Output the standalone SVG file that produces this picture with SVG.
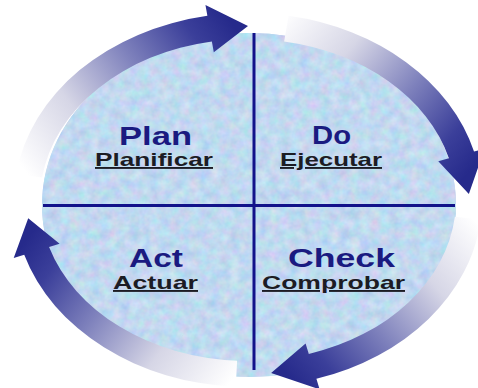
<svg xmlns="http://www.w3.org/2000/svg" width="478" height="388" viewBox="0 0 478 388">
  <style>
    .main { font-family: "Liberation Sans", Arial, sans-serif; font-weight: bold; font-size: 25px; fill: #1a1a80; }
    .sub { font-family: "Liberation Sans", Arial, sans-serif; font-weight: bold; font-size: 19px; fill: #1c1c24; text-decoration: underline; }
    .axis { stroke: #12128a; stroke-width: 3; fill: none; }
  </style>
  <defs>
    <filter id="tex" filterUnits="userSpaceOnUse" x="0" y="0" width="478" height="388" color-interpolation-filters="sRGB">
      <feTurbulence type="fractalNoise" baseFrequency="0.1" numOctaves="3" seed="4" result="n"/>
      <feColorMatrix in="n" type="matrix" values="0.25 0 0 0 0.63  0 0.18 0 0 0.76  0 0 0.1 0 0.89  0 0 0 0 1" result="c"/>
      <feComposite in="c" in2="SourceAlpha" operator="in"/>
    </filter>
    <linearGradient id="g1" gradientUnits="userSpaceOnUse" x1="30" y1="178" x2="235" y2="28">
      <stop offset="0" stop-color="#ffffff"/>
      <stop offset="0.3" stop-color="#d6d6e6"/>
      <stop offset="0.6" stop-color="#7e81bc"/>
      <stop offset="0.85" stop-color="#3b3f9a"/>
      <stop offset="1" stop-color="#262a8b"/>
    </linearGradient>
    <linearGradient id="g2" gradientUnits="userSpaceOnUse" x1="275" y1="25" x2="462" y2="180">
      <stop offset="0" stop-color="#ffffff"/>
      <stop offset="0.3" stop-color="#d6d6e6"/>
      <stop offset="0.6" stop-color="#7e81bc"/>
      <stop offset="0.85" stop-color="#3b3f9a"/>
      <stop offset="1" stop-color="#262a8b"/>
    </linearGradient>
    <linearGradient id="g3" gradientUnits="userSpaceOnUse" x1="470" y1="215" x2="285" y2="372">
      <stop offset="0" stop-color="#ffffff"/>
      <stop offset="0.3" stop-color="#d6d6e6"/>
      <stop offset="0.6" stop-color="#7e81bc"/>
      <stop offset="0.85" stop-color="#3b3f9a"/>
      <stop offset="1" stop-color="#262a8b"/>
    </linearGradient>
    <linearGradient id="g4" gradientUnits="userSpaceOnUse" x1="236" y1="375" x2="35" y2="228">
      <stop offset="0" stop-color="#ffffff"/>
      <stop offset="0.3" stop-color="#d6d6e6"/>
      <stop offset="0.6" stop-color="#7e81bc"/>
      <stop offset="0.85" stop-color="#3b3f9a"/>
      <stop offset="1" stop-color="#262a8b"/>
    </linearGradient>
  </defs>

  <rect width="478" height="388" fill="#ffffff"/>

  <g id="disc">
    <ellipse cx="249" cy="205" rx="207" ry="172" fill="#bfd5ef"/>
    <ellipse cx="249" cy="205" rx="207" ry="172" fill="#bfd5ef" filter="url(#tex)"/>
  </g>

  <g id="connectors">
    <path d="M 16.27,173.97 A 234 187 0 0 1 207.37,15.84 L 205.46,5.01 L 248,26 L 213.79,52.28 L 211.88,41.45 A 208 161 0 0 0 42.02,177.59 Z" fill="url(#g1)"/>
    <path d="M 288.63,15.84 A 234 187 0 0 1 474.03,151.60 L 484.65,148.75 L 468.87,193.93 L 438.29,161.18 L 448.91,158.33 A 208 161 0 0 0 284.12,41.45 Z" fill="url(#g2)"/>
    <path d="M 480.72,219.55 A 234 187 0 0 1 316.41,378.83 L 319.63,389.35 L 271.10,373.05 L 305.60,343.45 L 308.81,353.96 A 208 161 0 0 0 454.86,216.83 Z" fill="url(#g3)"/>
    <path d="M 235.75,386.74 A 234 187 0 0 1 24.23,254.67 L 13.71,257.89 L 28.21,218.19 L 59.61,243.86 L 49.09,247.07 A 208 161 0 0 0 237.11,360.78 Z" fill="url(#g4)"/>
  </g>

  <g id="axes">
    <line class="axis" x1="43" y1="205.5" x2="455" y2="205.5"/>
    <line class="axis" x1="254" y1="33" x2="254" y2="370"/>
  </g>

  <g id="node-plan">
    <text class="main" x="119" y="145" textLength="73" lengthAdjust="spacingAndGlyphs">Plan</text>
    <text class="sub" x="95" y="166" textLength="118" lengthAdjust="spacingAndGlyphs">Planificar</text>
  </g>
  <g id="node-do">
    <text class="main" x="312" y="144" textLength="39" lengthAdjust="spacingAndGlyphs">Do</text>
    <text class="sub" x="280" y="166" textLength="102" lengthAdjust="spacingAndGlyphs">Ejecutar</text>
  </g>
  <g id="node-act">
    <text class="main" x="129" y="267" textLength="54" lengthAdjust="spacingAndGlyphs">Act</text>
    <text class="sub" x="113" y="289" textLength="85" lengthAdjust="spacingAndGlyphs">Actuar</text>
  </g>
  <g id="node-check">
    <text class="main" x="288" y="267" textLength="107" lengthAdjust="spacingAndGlyphs">Check</text>
    <text class="sub" x="262" y="289" textLength="143" lengthAdjust="spacingAndGlyphs">Comprobar</text>
  </g>
</svg>
